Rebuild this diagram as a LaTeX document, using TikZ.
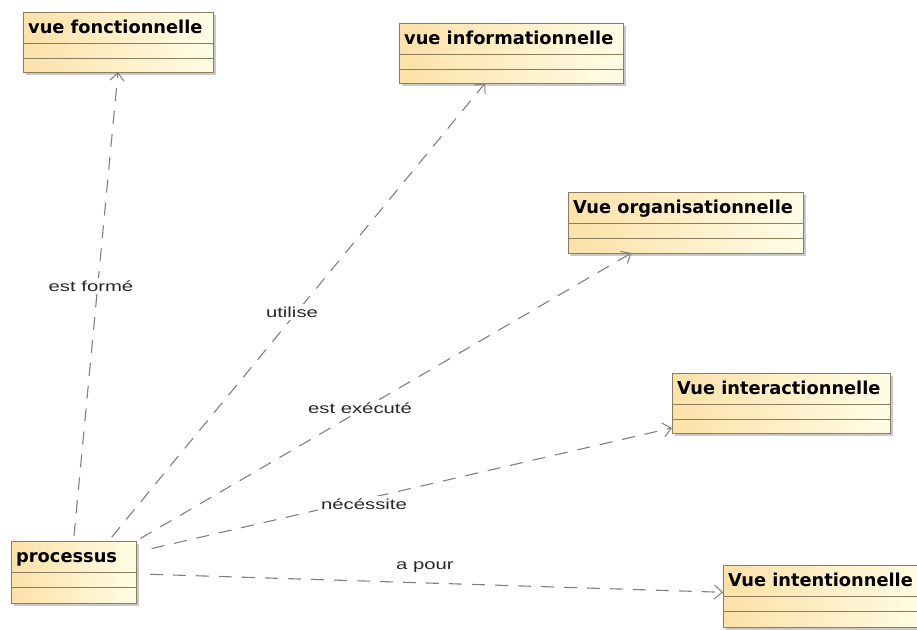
\documentclass[tikz,border=0pt]{standalone}
\usepackage{fontspec}
\usetikzlibrary{arrows.meta,calc,shadows}

\newfontfamily\headfont{DejaVu Sans}
\newfontfamily\labelfont[FakeStretch=1.4]{Liberation Sans}

\definecolor{boxedge}{RGB}{140,125,95}
\definecolor{boxleft}{RGB}{252,225,168}
\definecolor{boxright}{RGB}{255,253,230}
\definecolor{linkgray}{RGB}{128,128,128}
\definecolor{shadowgray}{RGB}{180,180,180}
\definecolor{labeltext}{RGB}{40,40,40}

\tikzset{
  umlbox/.style={draw=boxedge, line width=0.8pt, left color=boxleft, right color=boxright,
    inner sep=0pt, outer sep=0pt, anchor=north west,
    drop shadow={shadow xshift=3pt, shadow yshift=-3pt, fill=shadowgray, opacity=0.7}},
  umlrule/.style={draw=boxedge, line width=0.8pt},
  umltitle/.style={anchor=base west, inner sep=0pt, text=black,
    font=\headfont\bfseries\fontsize{17.8}{20}\selectfont},
  linklabel/.style={fill=white, inner sep=3pt, text=labeltext,
    font=\labelfont\fontsize{14.5}{16}\selectfont},
  depend/.style={draw=linkgray, line width=1.1pt, dash pattern=on 13pt off 10pt,
    -{Straight Barb[length=8pt,width=14pt,line width=1pt]}, shorten <=5pt}
}

% UML class box: name, left, top, width, height, title
\newcommand\umlclass[6]{%
  \node[umlbox, minimum width=#4pt, minimum height=#5pt] (#1) at (#2,#3) {};
  \draw[umlrule] ($(#1.north west)+(0,31)$) -- ($(#1.north east)+(0,31)$);
  \draw[umlrule] ($(#1.north west)+(0,46)$) -- ($(#1.north east)+(0,46)$);
  \node[umltitle] (#1-title) at ($(#1.north west)+(5,21)$) {#6};
}

\begin{document}
\begin{tikzpicture}[x=1pt,y=-1pt]
  \clip (0,0) rectangle (917,629);
  \fill[white] (0,0) rectangle (917,629);

  % classes
  \umlclass{fonc}{23}{12}{190}{60}{vue fonctionnelle}
  \umlclass{info}{399}{23}{224}{60}{vue informationnelle}
  \umlclass{orga}{568}{192}{235}{61}{Vue organisationnelle}
  \umlclass{inter}{672}{373}{218}{60}{Vue interactionnelle}
  \umlclass{proc}{11}{541}{125}{62}{processus}
  \umlclass{inten}{723}{565}{210}{62}{Vue intentionnelle}

  % dependencies from processus
  \draw[depend] (proc.north) -- (fonc.south);
  \draw[depend] ($(proc.north west)!0.78!(proc.north east)$)
             -- ($(info.south west)!0.385!(info.south east)$);
  \draw[depend] (proc.north east)
             -- ($(orga.south west)!0.27!(orga.south east)$);
  \draw[depend, shorten <=16pt] ($(proc.north east)!0.18!(proc.south east)$)
             -- ($(inter.south west)!0.085!(inter.north west)$);
  \draw[depend, shorten <=14pt] ($(proc.north east)!0.53!(proc.south east)$)
             -- ($(inten.north west)!0.44!(inten.south west)$);

  % labels
  \node[linklabel] (l-forme) at (91,286) {est formé};
  \node[linklabel] (l-utilise) at (292,312) {utilise};
  \node[linklabel] (l-execute) at (360,408) {est exécuté};
  \node[linklabel] (l-necessite) at (364,504) {nécéssite};
  \node[linklabel] (l-pour) at (425,567) {a pour};
\end{tikzpicture}
\end{document}
